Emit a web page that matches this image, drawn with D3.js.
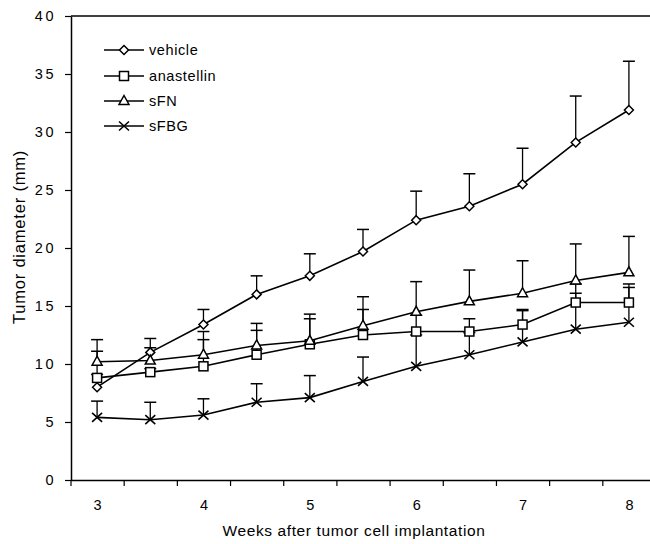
<!DOCTYPE html>
<html>
<head>
<meta charset="utf-8">
<script src="https://cdn.jsdelivr.net/npm/d3@7"></script>
<style>
  body { margin: 0; background: #fff; }
  svg { display: block; }
  text { font-family: "Liberation Sans", Arial, Helvetica, sans-serif; fill: #000; }
</style>
</head>
<body>
<svg id="chart" width="650" height="544"></svg>
<script>
// ---- data ----
const weeks = [3, 3.5, 4, 4.5, 5, 5.5, 6, 6.5, 7, 7.5, 8];
const xTickLabels = [3, 4, 5, 6, 7, 8];
const yTickValues = [0, 5, 10, 15, 20, 25, 30, 35, 40];
const seriesNames = ["vehicle", "anastellin", "sFN", "sFBG"];
const vehicle      = [8.0, 11.0, 13.4, 16.0, 17.6, 19.7, 22.4, 23.6, 25.5, 29.1, 31.9];
const vehicleErr   = [11.1, 12.2, 14.7, 17.6, 19.5, 21.6, 24.9, 26.4, 28.6, 33.1, 36.1];
const anastellin   = [8.8, 9.3, 9.8, 10.8, 11.7, 12.5, 12.8, 12.8, 13.4, 15.3, 15.3];
const anastellinErr= [9.1, 9.6, 12.1, 12.9, 13.9, 14.7, 14.2, 13.9, 14.7, 16.1, 16.6];
const sFN          = [10.2, 10.3, 10.8, 11.6, 12.0, 13.3, 14.5, 15.4, 16.1, 17.2, 17.9];
const sFNErr       = [12.1, 11.4, 12.8, 13.5, 14.3, 15.8, 17.1, 18.1, 18.9, 20.35, 21.0];
const sFBG         = [5.4, 5.2, 5.6, 6.7, 7.1, 8.5, 9.8, 10.8, 11.9, 13.0, 13.6];
const sFBGErr      = [6.8, 6.7, 7.0, 8.3, 9.0, 10.6, 12.5, 12.7, 14.6, 16.9, 16.9];

const series = [
  { name: seriesNames[0], values: vehicle, err: vehicleErr, marker: "diamond" },
  { name: seriesNames[1], values: anastellin, err: anastellinErr, marker: "square" },
  { name: seriesNames[2], values: sFN, err: sFNErr, marker: "triangle" },
  { name: seriesNames[3], values: sFBG, err: sFBGErr, marker: "cross" }
];

// ---- layout ----
const svg = d3.select("#chart");
const plotLeft = 71, plotTop = 16, plotBottom = 480, plotRight = 655.5;
const x = d3.scaleLinear().domain([2.75, 8.25]).range([plotLeft - 0.5, plotRight]);
const y = d3.scaleLinear().domain([0, 40]).range([plotBottom, plotTop]);

const stroke = "#000";

// frame top line
svg.append("line")
  .attr("x1", plotLeft).attr("x2", 650)
  .attr("y1", plotTop).attr("y2", plotTop)
  .attr("stroke", stroke).attr("stroke-width", 1.5);

// y axis
const yAxis = svg.append("g")
  .attr("transform", `translate(${plotLeft},0)`)
  .call(d3.axisLeft(y).tickValues(yTickValues).tickSize(6).tickSizeOuter(0).tickPadding(9));
yAxis.select(".domain").attr("stroke-width", 1.5);
yAxis.selectAll(".tick line").attr("stroke-width", 1.2);
yAxis.selectAll("text")
  .attr("font-size", 14.5)
  .attr("letter-spacing", "2.5px")
  .attr("font-family", "Liberation Sans, Arial, sans-serif");

// x axis: ticks at category boundaries
const boundaries = d3.range(12).map(i => 2.75 + i * 0.5);
const xAxis = svg.append("g")
  .attr("transform", `translate(0,${plotBottom})`)
  .call(d3.axisBottom(x).tickValues(boundaries).tickSize(6).tickSizeOuter(0).tickFormat(""));
xAxis.select(".domain").attr("stroke-width", 1.5);
xAxis.selectAll(".tick line").attr("stroke-width", 1.2);

// x labels at integer weeks
const xLab = svg.append("g")
  .attr("transform", `translate(0,${plotBottom})`)
  .call(d3.axisBottom(x).tickValues(xTickLabels).tickSize(0).tickPadding(20).tickFormat(d3.format("d")));
xLab.select(".domain").remove();
xLab.selectAll("text").attr("font-size", 14.5).attr("font-family", "Liberation Sans, Arial, sans-serif");

// axis titles
svg.append("text")
  .attr("x", 354).attr("y", 536)
  .attr("text-anchor", "middle")
  .attr("font-size", 15.5)
  .attr("letter-spacing", "0.6px")
  .text("Weeks after tumor cell implantation");

svg.append("text")
  .attr("transform", "translate(25,237) rotate(-90)")
  .attr("text-anchor", "middle")
  .attr("font-size", 16.5)
  .attr("letter-spacing", "0.8px")
  .text("Tumor diameter (mm)");

// marker drawing
function drawMarker(g, type, cx, cy) {
  if (type === "diamond") {
    g.append("path")
      .attr("d", `M${cx},${cy - 4.5}L${cx + 4.5},${cy}L${cx},${cy + 4.5}L${cx - 4.5},${cy}Z`)
      .attr("fill", "#fff").attr("stroke", stroke).attr("stroke-width", 1.5);
  } else if (type === "square") {
    g.append("rect")
      .attr("x", cx - 4.5).attr("y", cy - 4.5).attr("width", 9).attr("height", 9)
      .attr("fill", "#fff").attr("stroke", stroke).attr("stroke-width", 1.5);
  } else if (type === "triangle") {
    g.append("path")
      .attr("d", `M${cx},${cy - 5.5}L${cx + 5},${cy + 3.5}L${cx - 5},${cy + 3.5}Z`)
      .attr("fill", "#fff").attr("stroke", stroke).attr("stroke-width", 1.5);
  } else {
    g.append("path")
      .attr("d", `M${cx - 5},${cy - 4.5}L${cx + 5},${cy + 4.5}M${cx - 5},${cy + 4.5}L${cx + 5},${cy - 4.5}`)
      .attr("fill", "none").attr("stroke", stroke).attr("stroke-width", 1.6);
  }
}

const line = d3.line().x(d => x(d[0])).y(d => y(d[1]));
const plot = svg.append("g");

// error bars first (beneath lines/markers)
series.forEach(s => {
  const eb = plot.append("g");
  weeks.forEach((w, i) => {
    const cx = x(w);
    eb.append("line")
      .attr("x1", cx).attr("x2", cx)
      .attr("y1", y(s.values[i])).attr("y2", y(s.err[i]))
      .attr("stroke", stroke).attr("stroke-width", 1.3);
    eb.append("line")
      .attr("x1", cx - 6).attr("x2", cx + 6)
      .attr("y1", y(s.err[i])).attr("y2", y(s.err[i]))
      .attr("stroke", stroke).attr("stroke-width", 1.5);
  });
});

// lines
series.forEach(s => {
  plot.append("path")
    .datum(weeks.map((w, i) => [w, s.values[i]]))
    .attr("d", line)
    .attr("fill", "none")
    .attr("stroke", stroke)
    .attr("stroke-width", 1.6);
});

// markers
series.forEach(s => {
  const mg = plot.append("g");
  weeks.forEach((w, i) => drawMarker(mg, s.marker, x(w), y(s.values[i])));
});

// legend
const legend = svg.append("g");
const legendY = [50, 76, 101, 126];
series.forEach((s, i) => {
  const ly = legendY[i];
  legend.append("line")
    .attr("x1", 104).attr("x2", 144)
    .attr("y1", ly).attr("y2", ly)
    .attr("stroke", stroke).attr("stroke-width", 1.5);
  drawMarker(legend, s.marker, 124, ly);
  legend.append("text")
    .attr("x", 149).attr("y", ly + 5)
    .attr("font-size", 14.5)
    .attr("letter-spacing", "0.6px")
    .text(s.name);
});
</script>
</body>
</html>
